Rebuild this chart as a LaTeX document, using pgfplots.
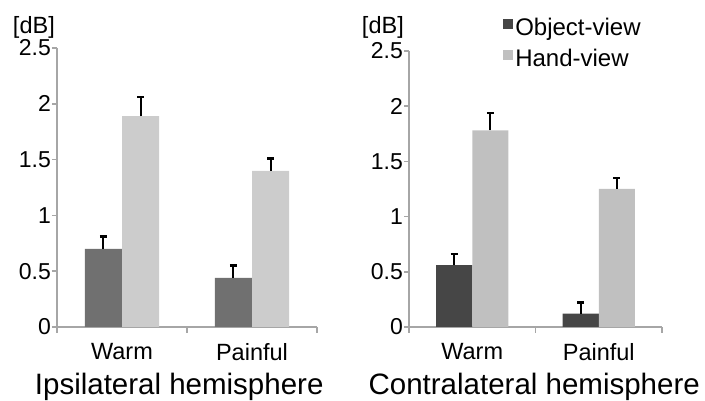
\documentclass[border=0pt]{standalone}
\usepackage{pgfplots}
\pgfplotsset{compat=1.18}
\usepackage{pgfplotstable}
\usepackage{fontspec}
\setmainfont{Liberation Sans}

\definecolor{ipsiObj}{HTML}{707070}
\definecolor{ipsiHand}{HTML}{CCCCCC}
\definecolor{contraObj}{HTML}{464646}
\definecolor{contraHand}{HTML}{C0C0C0}
\definecolor{axisgray}{HTML}{A6A6A6}

% mean power change [dB] and upper error (SE)
\pgfplotstableread{
cat obj objerr hand handerr
0 0.70 0.11 1.89 0.17
1 0.44 0.11 1.40 0.11
}\ipsi
\pgfplotstableread{
cat obj objerr hand handerr
0 0.56 0.10 1.78 0.16
1 0.12 0.10 1.25 0.10
}\contra

\pgfplotsset{
  hemi/.style={
    scale only axis, clip=false,
    ybar=0pt, bar width=0.285,
    xmin=-0.5, xmax=1.5, ymin=0, ymax=2.5,
    enlargelimits=false,
    axis x line=bottom, axis y line=left,
    axis line style={axisgray, line width=1.5pt, -},
    xtick={0,1}, xticklabels={Warm,Painful},
    minor xtick={-0.5,0.5,1.5},
    ytick={0,0.5,1,1.5,2,2.5},
    tick align=outside,
    major tick length=5pt, minor tick length=6pt,
    tick style={axisgray, line width=1.5pt},
    major x tick style={draw=none},
    /pgf/number format/assume math mode=true,
    yticklabel style={font=\fontsize{23}{27}\selectfont, inner xsep=1pt},
    xticklabel style={font=\fontsize{23.5}{27}\selectfont, yshift=-8pt},
    error bars/y dir=plus, error bars/y explicit,
    error bars/error bar style={black, line width=2pt},
    error bars/error mark options={black, line width=2.5pt, mark size=3.5pt, rotate=90},
  },
  barfill/.style={fill=#1, draw=none},
}

\begin{document}
\begin{tikzpicture}[x=1pt,y=1pt]
\useasboundingbox (0,0) rectangle (705,401);

% ipsilateral hemisphere
\begin{axis}[hemi, at={(57pt,74pt)}, anchor=south west,
    width=260pt, height=279pt]
  \addplot[barfill=ipsiObj] table[x=cat, y=obj, y error=objerr] {\ipsi};
  \addplot[barfill=ipsiHand] table[x=cat, y=hand, y error=handerr] {\ipsi};
  \node[anchor=base east, font=\fontsize{23.5}{27}\selectfont, inner sep=0pt]
    at (rel axis cs:0,1) [xshift=-2pt, yshift=14pt] {[dB]};
  \node[anchor=base, font=\fontsize{29.5}{34}\selectfont, inner sep=0pt]
    at (rel axis cs:0.47,0) [yshift=-68pt] {Ipsilateral hemisphere};
\end{axis}

% contralateral hemisphere
\begin{axis}[hemi, at={(409pt,74pt)}, anchor=south west,
    width=253pt, height=276pt,
    legend style={at={(0.37,1.12)}, anchor=north west, draw=none,
      fill=none, inner sep=0pt, row sep=12pt,
      font=\fontsize{24}{28}\selectfont, cells={anchor=west},
      nodes={inner xsep=2.5pt, inner ysep=0pt}},
    legend image code/.code={\fill[#1,draw=none] (0pt,-1.5pt) rectangle (10pt,8.5pt);}]
  \addplot[barfill=contraObj] table[x=cat, y=obj, y error=objerr] {\contra};
  \addplot[barfill=contraHand] table[x=cat, y=hand, y error=handerr] {\contra};
  \legend{Object-view, Hand-view}
  \node[anchor=base east, font=\fontsize{23.5}{27}\selectfont, inner sep=0pt]
    at (rel axis cs:0,1) [xshift=-5pt, yshift=17pt] {[dB]};
  \node[anchor=base, font=\fontsize{29.5}{34}\selectfont, inner sep=0pt]
    at (rel axis cs:0.495,0) [yshift=-68pt] {Contralateral hemisphere};
\end{axis}
\end{tikzpicture}
\end{document}
